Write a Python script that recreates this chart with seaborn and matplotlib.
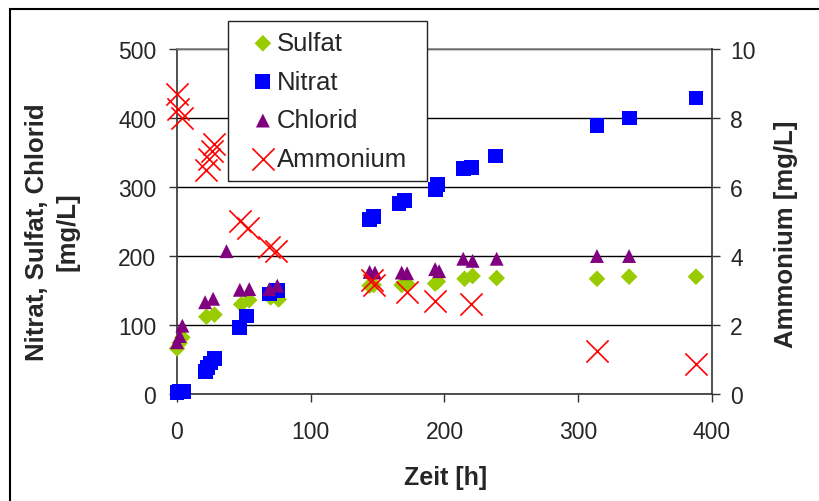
import matplotlib
matplotlib.use("Agg")
import matplotlib.pyplot as plt
import seaborn as sns
from matplotlib.patches import Rectangle

zeit_sulfat = [0, 2, 4, 22, 28, 48, 54, 70, 76, 144, 147, 168, 172, 193, 195, 215, 221, 239, 314, 338, 388]
sulfat = [66, 74, 82, 112, 115, 130, 136, 140, 137, 157, 158, 158, 160, 160, 163, 167, 171, 168, 167, 170, 170]

zeit_nitrat = [0, 2, 5, 21, 23, 25, 28, 47, 52, 69, 75, 144, 147, 166, 170, 193, 195, 214, 220, 238, 314, 338, 388]
nitrat = [2, 3, 3, 32, 38, 45, 51, 97, 113, 145, 150, 253, 257, 276, 280, 297, 303, 327, 328, 345, 389, 400, 429]

zeit_chlorid = [0, 2, 4, 21, 27, 37, 47, 54, 69, 75, 144, 148, 168, 172, 193, 196, 214, 221, 239, 314, 338]
chlorid = [75, 84, 99, 133, 138, 207, 151, 152, 152, 157, 177, 176, 176, 175, 181, 178, 196, 193, 196, 200, 200]

zeit_ammonium = [0, 1, 4, 22, 24, 26, 28, 47, 53, 69, 74, 146, 147, 172, 193, 220, 314, 388]
ammonium = [8.7, 8.25, 8.0, 6.5, 6.8, 7.05, 7.25, 5.0, 4.8, 4.25, 4.15, 3.3, 3.15, 2.95, 2.7, 2.6, 1.25, 0.87]

x_ticks = [0, 100, 200, 300, 400]
y_ticks = [0, 100, 200, 300, 400, 500]
y2_ticks = [0, 2, 4, 6, 8, 10]

sns.set_style("white")
plt.rcParams['font.family'] = ['Liberation Sans', 'DejaVu Sans']

W, H = 820, 502
fig = plt.figure(figsize=(W / 100, H / 100), dpi=100)
ax = fig.add_axes([177 / W, 1 - 395 / H, (712 - 177) / W, (395 - 50) / H])
ax2 = ax.twinx()

sns.scatterplot(x=zeit_sulfat, y=sulfat, marker="D", s=72, color="#99cc00", edgecolor="none",
                label="Sulfat", ax=ax, legend=False, clip_on=False, zorder=3)
sns.scatterplot(x=zeit_nitrat, y=nitrat, marker="s", s=115, color="#0000ff", edgecolor="none",
                label="Nitrat", ax=ax, legend=False, clip_on=False, zorder=4)
sns.scatterplot(x=zeit_chlorid, y=chlorid, marker="^", s=100, color="#800080", edgecolor="none",
                label="Chlorid", ax=ax, legend=False, clip_on=False, zorder=5)
sns.scatterplot(x=zeit_ammonium, y=ammonium, marker="x", s=255, color="#ff0000", linewidth=1.2,
                label="Ammonium", ax=ax2, legend=False, clip_on=False, zorder=6)

ax.set_xlim(0, 400)
ax.set_ylim(0, 500)
ax2.set_ylim(0, 10)
ax.set_xticks(x_ticks)
ax.set_yticks(y_ticks)
ax2.set_yticks(y2_ticks)
ax.set_xlabel("")
ax.set_ylabel("")
ax2.set_ylabel("")

ax.yaxis.grid(True, color="black", linewidth=1)
ax.xaxis.grid(False)
ax.set_axisbelow(True)

axis_col = "#333333"
ax.tick_params(axis="x", bottom=True, direction="out", length=6, width=1, color=axis_col,
               labelsize=16.5, pad=13)
ax.tick_params(axis="y", left=True, direction="out", length=6, width=1, color=axis_col,
               labelsize=16.5, pad=9)
ax2.tick_params(axis="y", right=True, left=False, direction="out", length=6, width=1,
                color=axis_col, labelsize=16.5, pad=7)

for s in ["left", "bottom"]:
    ax.spines[s].set_color(axis_col)
    ax.spines[s].set_linewidth(1.2)
ax.spines["right"].set_visible(False)
ax.spines["top"].set_color("#808080")
ax.spines["top"].set_linewidth(1.2)
for s in ["left", "bottom", "top"]:
    ax2.spines[s].set_visible(False)
ax2.spines["right"].set_color(axis_col)
ax2.spines["right"].set_linewidth(1.2)

# Achsentitel
fig.text(446 / W, 1 - 478 / H, "Zeit [h]", ha="center", va="center", fontsize=18, fontweight="bold")
fig.text(52 / W, 1 - 232 / H, "Nitrat, Sulfat, Chlorid\n[mg/L]", ha="center", va="center",
         rotation=90, fontsize=18.5, fontweight="bold", linespacing=1.35)
fig.text(786 / W, 1 - 234 / H, "Ammonium [mg/L]", ha="center", va="center", rotation=90,
         fontsize=18.5, fontweight="bold")

# Legende mit eigenem Rahmen
h1, l1 = ax.get_legend_handles_labels()
h2, l2 = ax2.get_legend_handles_labels()
fig.add_artist(Rectangle((228 / W, 1 - 182 / H), (427 - 228) / W, (182 - 22) / H,
                         transform=fig.transFigure, facecolor="white", edgecolor="#222222",
                         linewidth=1.0, zorder=1.5))
leg = fig.legend(h1 + h2, l1 + l2, loc="upper left", bbox_to_anchor=(250 / W, 1 - 32 / H),
                 frameon=False, fontsize=18.5, borderaxespad=0, borderpad=0,
                 handlelength=1.0, handletextpad=0.05, labelspacing=0.57, scatterpoints=1)
leg.set_zorder(2)

# Rahmen um das Diagramm
fig.add_artist(Rectangle((10 / W, -0.1), 1.2, 1 - 10 / H + 0.1, transform=fig.transFigure,
                         fill=False, edgecolor="black", linewidth=1.5))

fig.savefig("out.png", dpi=100)
